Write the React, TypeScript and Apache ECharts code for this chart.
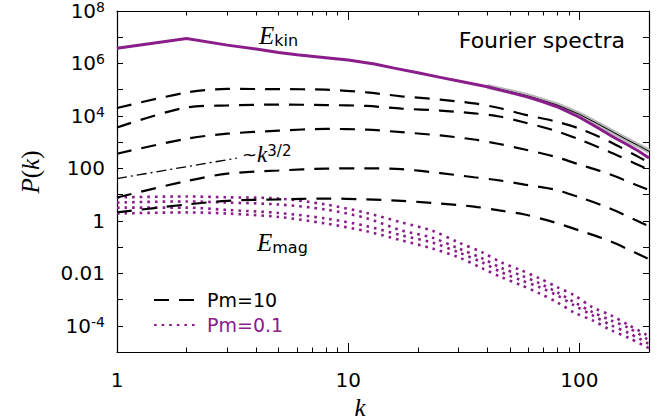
import React, { useEffect, useRef } from "react";
import * as echarts from "echarts";

const PURPLE = "#8b1c8b";
const SANS = "DejaVu Sans";
const SERIF = "Liberation Serif";

// wavenumbers
const K_KIN = [1, 2, 3, 4, 5, 6, 8, 10, 13, 16, 20, 25, 30, 40, 50, 60, 70, 80, 100, 120, 140, 160, 180, 200];
const EKIN_PM01 = [3.8e6, 8.9e6, 5.0e6, 3.55e6, 2.63e6, 2.14e6, 1.66e6, 1.35e6, 9.5e5, 6.5e5, 4.4e5, 2.95e5, 2.14e5, 1.29e5, 7.9e4, 5.2e4, 3.4e4, 2.24e4, 8.9e3, 3.55e3, 1.58e3, 832, 457, 251];
const EKIN_PM10 = [3.8e6, 8.9e6, 5.0e6, 3.55e6, 2.63e6, 2.14e6, 1.66e6, 1.35e6, 9.5e5, 6.5e5, 4.4e5, 2.95e5, 2.14e5, 1.32e5, 8.5e4, 5.75e4, 3.8e4, 2.63e4, 1.15e4, 5.0e3, 2.4e3, 1.26e3, 741, 447];

const K_DASH = [1, 2, 3, 5, 8, 12, 17, 25, 35, 45, 58, 78, 100, 133, 173, 200];
const EMAG_PM10_A = [2.0e4, 7.8e4, 1.07e5, 1.05e5, 1.0e5, 7.9e4, 5.6e4, 4.2e4, 3.0e4, 2.0e4, 1.12e4, 6.3e3, 3.3e3, 1.12e3, 331, 166];
const EMAG_PM10_B = [3.6e3, 2.1e4, 2.5e4, 2.7e4, 2.6e4, 2.4e4, 1.9e4, 1.6e4, 1.26e4, 9.5e3, 5.6e3, 2.8e3, 1.26e3, 447, 158, 89];
const EMAG_PM10_C = [363, 1.35e3, 2.1e3, 2.75e3, 3.2e3, 3.0e3, 2.4e3, 1.8e3, 1.26e3, 851, 525, 282, 141, 63, 25, 15];
const EMAG_PM10_D = [7.8, 33, 63, 83, 98, 100, 93, 66, 46, 35, 24, 15.5, 7.9, 3.2, 1.12, 0.63];
const EMAG_PM10_E = [2.1, 4.2, 5.8, 6.6, 7.1, 6.6, 5.8, 4.6, 3.5, 2.5, 1.74, 0.87, 0.43, 0.18, 0.063, 0.035];

const K_DOT = [1, 2, 3, 5, 8, 12, 17, 23, 30, 38, 46, 56, 67, 80, 95, 114, 137, 164, 200];
const EMAG_PM01_A = [7.8, 8.5, 7.9, 7.1, 4.2, 2.0, 0.87, 0.43, 0.15, 0.063, 0.026, 0.013, 6.5e-3, 3.0e-3, 1.45e-3, 5.1e-4, 2.5e-4, 1.05e-4, 4.0e-5];
const EMAG_PM01_B = [5.0, 5.5, 5.0, 4.2, 2.7, 1.26, 0.43, 0.23, 0.089, 0.037, 0.016, 8.3e-3, 4.2e-3, 1.9e-3, 7.9e-4, 3.3e-4, 1.6e-4, 8.1e-5, 2.8e-5];
const EMAG_PM01_C = [3.2, 3.2, 2.6, 2.0, 1.23, 0.63, 0.28, 0.15, 0.063, 0.026, 0.011, 5.4e-3, 3.0e-3, 1.45e-3, 6.0e-4, 2.5e-4, 1.05e-4, 5.2e-5, 2.0e-5];
const EMAG_PM01_D = [1.9, 2.1, 1.9, 1.41, 0.79, 0.40, 0.18, 0.089, 0.041, 0.0155, 7.1e-3, 3.5e-3, 1.74e-3, 7.9e-4, 3.2e-4, 1.6e-4, 6.8e-5, 3.4e-5, 1.4e-5];

const K_SLOPE = [1, 3.3];
const SLOPE_REF = [41, 246];

// axes
const X_MIN = 1;
const X_MAX = 200;
const X_MAJOR = [1, 10, 100];
const X_MINOR = [2, 3, 4, 5, 6, 7, 8, 9, 20, 30, 40, 50, 60, 70, 80, 90, 200];
const Y_MIN = 1e-5;
const Y_MAX = 1e8;
const Y_TICKS = [1e-5, 1e-4, 1e-3, 1e-2, 1e-1, 1, 10, 100, 1e3, 1e4, 1e5, 1e6, 1e7, 1e8];
const Y_LABELS = [1e-4, 1e-2, 1, 100, 1e4, 1e6, 1e8];

const pairs = (ks: number[], vs: number[]) => ks.map((k, i) => [k, vs[i]]);

function yLabel(v: number): string {
  const e = Math.round(Math.log10(v));
  if (e % 2 !== 0) return "";
  if (e === 0) return "{b|1}";
  if (e === 2) return "{b|100}";
  if (e === -2) return "{b|0.01}";
  return "{b|10}{s|" + e + "}";
}

export default function App() {
  const ref = useRef<HTMLDivElement>(null);
  useEffect(() => {
    if (!ref.current) return;
    const chart = echarts.init(ref.current, null, { renderer: "svg" });
    const xBase = (pos: string, custom: number[], len: number, showLine: boolean, labels: boolean) => ({
      type: "log",
      logBase: 10,
      min: X_MIN,
      max: X_MAX,
      position: pos,
      gridIndex: 0,
      axisLine: { show: showLine, lineStyle: { color: "#000", width: 1.2 } },
      axisTick: { show: true, inside: true, length: len, customValues: custom, lineStyle: { color: "#000", width: 1 } },
      axisLabel: labels
        ? { show: true, customValues: X_MAJOR, margin: 18, fontSize: 20, fontFamily: SANS, color: "#000" }
        : { show: false },
      splitLine: { show: false },
      minorTick: { show: false },
    });
    const yBase = (pos: string, labels: boolean) => ({
      type: "log",
      logBase: 10,
      min: Y_MIN,
      max: Y_MAX,
      position: pos,
      gridIndex: 0,
      axisLine: { show: true, lineStyle: { color: "#000", width: 1.2 } },
      axisTick: { show: true, inside: true, length: 6, customValues: Y_TICKS, lineStyle: { color: "#000", width: 1 } },
      axisLabel: labels
        ? {
            show: true,
            customValues: Y_LABELS,
            margin: 12,
            formatter: yLabel,
            fontSize: 20,
            fontFamily: SANS,
            color: "#000",
            rich: {
              b: { fontSize: 20, fontFamily: SANS, color: "#000", lineHeight: 22 },
              s: { fontSize: 14, fontFamily: SANS, color: "#000", verticalAlign: "top", lineHeight: 10 },
            },
          }
        : { show: false },
      splitLine: { show: false },
    });

    const dashed = (vals: number[]) => ({
      type: "line",
      name: "Pm=10",
      data: pairs(K_DASH, vals),
      symbol: "none",
      smooth: 0.3,
      silent: true,
      itemStyle: { color: "#000" },
      lineStyle: { color: "#000", width: 2.2, type: [15, 10] },
      z: 3,
    });
    const dotted = (vals: number[]) => ({
      type: "line",
      name: "Pm=0.1",
      data: pairs(K_DOT, vals),
      symbol: "none",
      smooth: 0.3,
      silent: true,
      itemStyle: { color: PURPLE },
      lineStyle: { color: PURPLE, width: 2.6, type: [2.6, 5], cap: "butt" },
      z: 2,
    });

    const option: any = {
      animation: false,
      backgroundColor: "#fff",
      grid: { left: 117, top: 10, right: 18, bottom: 68, containLabel: false },
      xAxis: [
        xBase("bottom", X_MAJOR, 9, true, true),
        xBase("bottom", X_MINOR, 4.5, false, false),
        xBase("top", X_MAJOR, 9, true, false),
        xBase("top", X_MINOR, 4.5, false, false),
      ],
      yAxis: [yBase("left", true), yBase("right", false)],
      legend: {
        orient: "vertical",
        left: 148,
        top: 284,
        itemWidth: 44,
        itemHeight: 14,
        itemGap: 3,
        selectedMode: false,
        itemStyle: { opacity: 0, borderWidth: 0 },
        data: [
          { name: "Pm=10", textStyle: { color: "#000" } },
          { name: "Pm=0.1", textStyle: { color: PURPLE } },
        ],
        textStyle: { fontFamily: SANS, fontSize: 19, lineHeight: 22, padding: [0, 0, 0, 4] },
      },
      series: [
        dashed(EMAG_PM10_A),
        dashed(EMAG_PM10_B),
        dashed(EMAG_PM10_C),
        dashed(EMAG_PM10_D),
        dashed(EMAG_PM10_E),
        dotted(EMAG_PM01_A),
        dotted(EMAG_PM01_B),
        dotted(EMAG_PM01_C),
        dotted(EMAG_PM01_D),
        {
          type: "line",
          name: "k^3/2",
          data: pairs(K_SLOPE, SLOPE_REF),
          symbol: "none",
          silent: true,
          lineStyle: { color: "#000", width: 1.3, type: [10, 4, 2, 4] },
          z: 3,
        },
        {
          type: "line",
          name: "Ekin spread",
          data: pairs(K_KIN.slice(13), EKIN_PM10.slice(13)),
          symbol: "none",
          smooth: 0.3,
          silent: true,
          lineStyle: { color: "#b8b8b8", width: 5 },
          z: 4,
        },
        {
          type: "line",
          name: "Ekin Pm=10",
          data: pairs(K_KIN, EKIN_PM10),
          symbol: "none",
          silent: true,
          lineStyle: { color: "#000", width: 1 },
          z: 5,
        },
        {
          type: "line",
          name: "Ekin Pm=0.1",
          data: pairs(K_KIN, EKIN_PM01),
          symbol: "none",
          silent: true,
          lineStyle: { color: PURPLE, width: 3, join: "miter" },
          z: 6,
        },
      ],
      graphic: [
        {
          type: "text",
          x: 625,
          y: 40,
          style: { text: "Fourier spectra", fontFamily: SANS, fontSize: 22, fill: "#000", align: "right", verticalAlign: "middle" },
        },
        {
          type: "text",
          x: 259,
          y: 35,
          style: {
            text: "{e|E}{s|kin}",
            align: "left",
            verticalAlign: "middle",
            rich: {
              e: { fontFamily: SERIF, fontStyle: "italic", fontSize: 25, fill: "#000", lineHeight: 26 },
              s: { fontFamily: SANS, fontSize: 16, fill: "#000", verticalAlign: "bottom", lineHeight: 14 },
            },
          },
        },
        {
          type: "text",
          x: 257,
          y: 242,
          style: {
            text: "{e|E}{s|mag}",
            align: "left",
            verticalAlign: "middle",
            rich: {
              e: { fontFamily: SERIF, fontStyle: "italic", fontSize: 25, fill: "#000", lineHeight: 26 },
              s: { fontFamily: SANS, fontSize: 16, fill: "#000", verticalAlign: "bottom", lineHeight: 12 },
            },
          },
        },
        {
          type: "text",
          x: 242,
          y: 154,
          style: {
            text: "{t|~}{k|k}{s|3/2}",
            align: "left",
            verticalAlign: "middle",
            rich: {
              t: { fontFamily: SANS, fontSize: 18, fill: "#000", lineHeight: 22 },
              k: { fontFamily: SERIF, fontStyle: "italic", fontSize: 23, fill: "#000", lineHeight: 22 },
              s: { fontFamily: SANS, fontSize: 15, fill: "#000", verticalAlign: "top", lineHeight: 10 },
            },
          },
        },
        {
          type: "text",
          x: 30,
          y: 172,
          rotation: Math.PI / 2,
          style: {
            text: "{i|P}{n|(}{i|k}{n|)}",
            align: "center",
            verticalAlign: "middle",
            rich: {
              i: { fontFamily: SERIF, fontStyle: "italic", fontSize: 25, fill: "#000" },
              n: { fontFamily: SERIF, fontSize: 25, fill: "#000" },
            },
          },
        },
        {
          type: "text",
          x: 360,
          y: 407,
          style: { text: "k", fontFamily: SERIF, fontStyle: "italic", fontSize: 25, fill: "#000", align: "center", verticalAlign: "middle" },
        },
      ],
    };
    chart.setOption(option);
    return () => chart.dispose();
  }, []);
  return <div ref={ref} style={{ position: "fixed", left: 0, top: 0, width: 667, height: 420, background: "#fff" }} />;
}
